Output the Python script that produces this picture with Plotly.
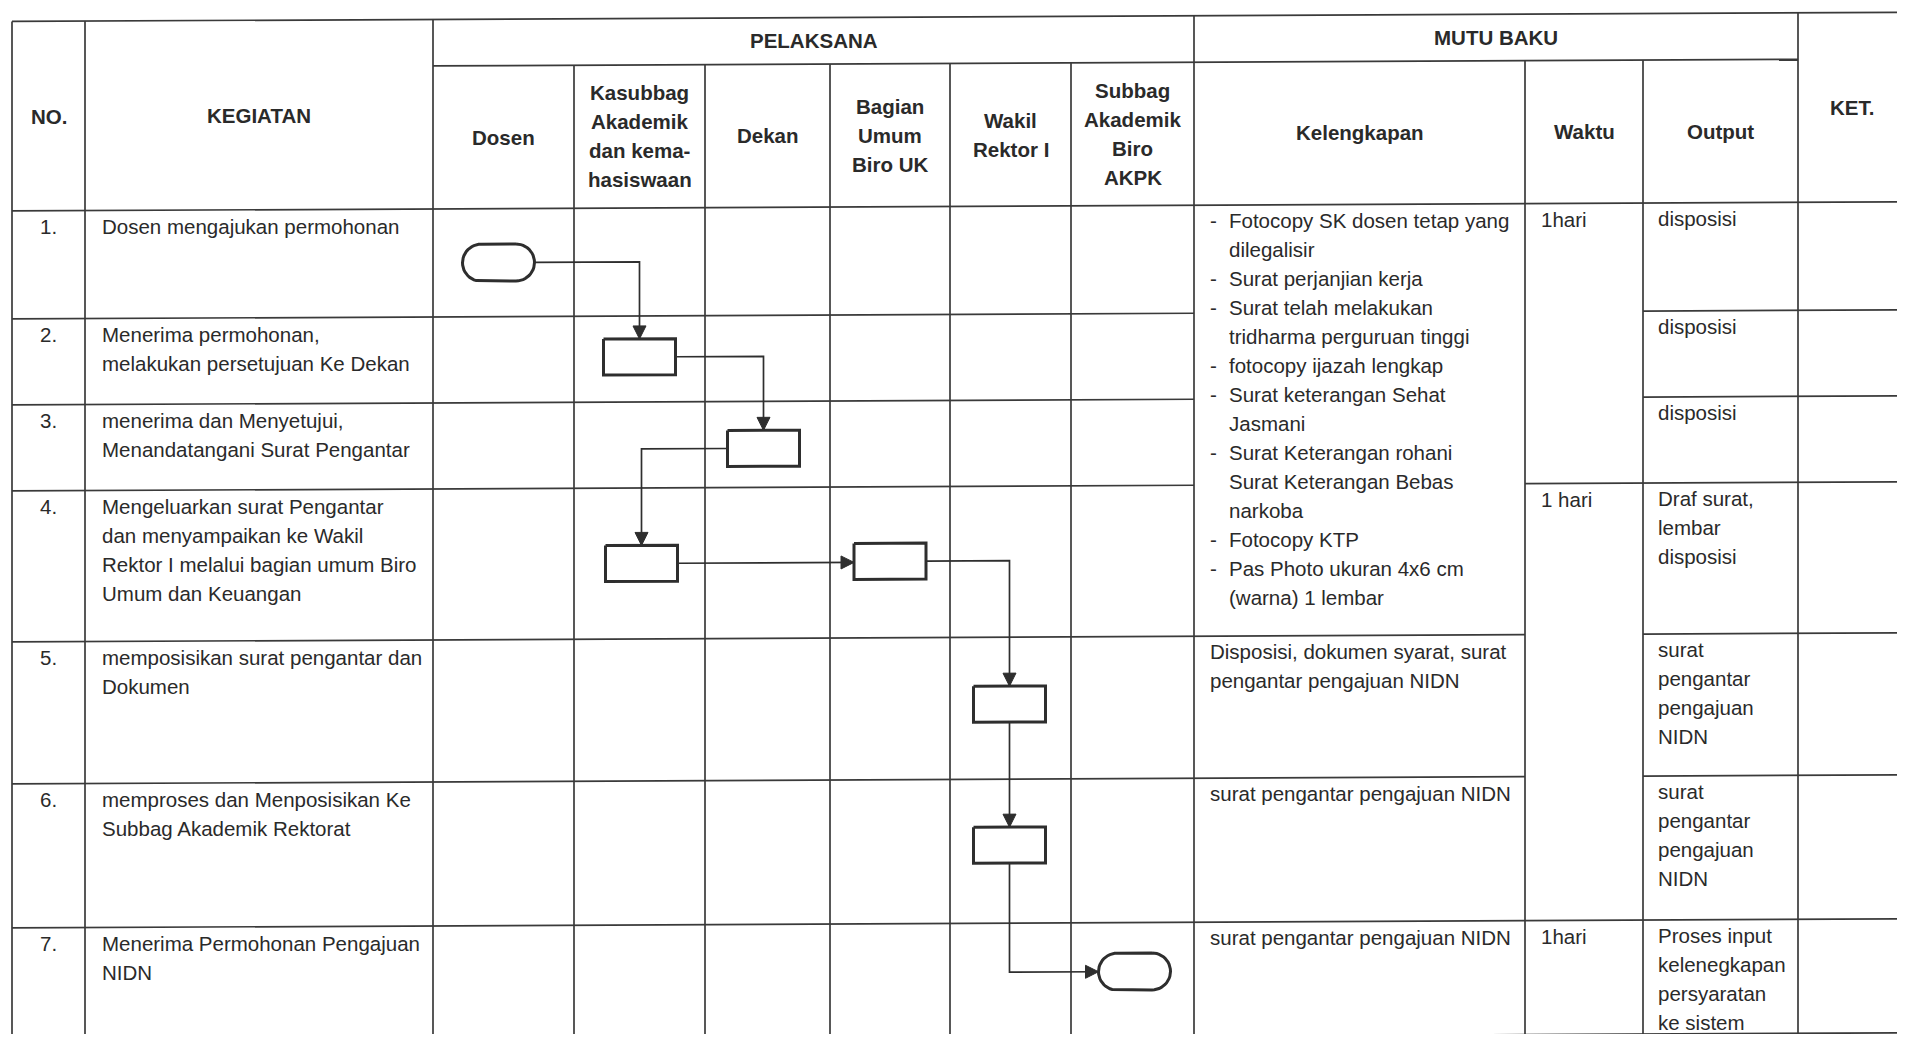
import numpy as np
import plotly.graph_objects as go

# ---------------- data (texts of the SOP table) ----------------
header_no = "NO."
header_kegiatan = "KEGIATAN"
header_pelaksana = "PELAKSANA"
header_mutu = "MUTU BAKU"
header_ket = "KET."
pelaksana_units = [
    ["Dosen"],
    ["Kasubbag", "Akademik", "dan kema-", "hasiswaan"],
    ["Dekan"],
    ["Bagian", "Umum", "Biro UK"],
    ["Wakil", "Rektor I"],
    ["Subbag", "Akademik", "Biro", "AKPK"],
]
mutu_columns = ["Kelengkapan", "Waktu", "Output"]
step_numbers = ["1.", "2.", "3.", "4.", "5.", "6.", "7."]
kegiatan = [
    ["Dosen mengajukan permohonan"],
    ["Menerima permohonan,", "melakukan persetujuan Ke Dekan"],
    ["menerima dan Menyetujui,", "Menandatangani Surat Pengantar"],
    ["Mengeluarkan surat Pengantar", "dan menyampaikan ke Wakil",
     "Rektor I melalui bagian umum Biro", "Umum dan Keuangan"],
    ["memposisikan surat pengantar dan", "Dokumen"],
    ["memproses dan Menposisikan Ke", "Subbag Akademik Rektorat"],
    ["Menerima Permohonan Pengajuan", "NIDN"],
]
# requirements list shared by steps 1-4 (bullet, wrapped lines)
kelengkapan_list = [
    ("-", ["Fotocopy SK dosen tetap yang", "dilegalisir"]),
    ("-", ["Surat perjanjian kerja"]),
    ("-", ["Surat telah melakukan", "tridharma perguruan tinggi"]),
    ("-", ["fotocopy ijazah lengkap"]),
    ("-", ["Surat keterangan Sehat", "Jasmani"]),
    ("-", ["Surat Keterangan rohani"]),
    ("", ["Surat Keterangan Bebas", "narkoba"]),
    ("-", ["Fotocopy KTP"]),
    ("-", ["Pas Photo ukuran 4x6 cm", "(warna) 1 lembar"]),
]
kelengkapan_steps = [5, 6, 7]
kelengkapan_texts = [
    ["Disposisi, dokumen syarat, surat", "pengantar pengajuan NIDN"],
    ["surat pengantar pengajuan NIDN"],
    ["surat pengantar pengajuan NIDN"],
]
waktu_steps = [1, 4, 7]
waktu_texts = ["1hari", "1 hari", "1hari"]
output_texts = [
    ["disposisi"],
    ["disposisi"],
    ["disposisi"],
    ["Draf surat,", "lembar", "disposisi"],
    ["surat", "pengantar", "pengajuan", "NIDN"],
    ["surat", "pengantar", "pengajuan", "NIDN"],
    ["Proses input", "kelenegkapan", "persyaratan", "ke sistem"],
]
# flowchart: (lane index in PELAKSANA, step number, symbol)
flow_steps = [
    (0, 1, "terminator"),
    (1, 2, "process"),
    (2, 3, "process"),
    (1, 4, "process"),
    (3, 4, "process"),
    (4, 5, "process"),
    (4, 6, "process"),
    (5, 7, "terminator"),
]
# connectors: (from step, to step, routing)
flow_links = [(0, 1, "hv"), (1, 2, "hv"), (2, 3, "hv"), (3, 4, "h"),
              (4, 5, "hv"), (5, 6, "v"), (6, 7, "vh")]

# ---------------- layout geometry (page pixels) ----------------
COL_X = [12, 85, 433, 574, 705, 830, 950, 1071, 1194, 1525, 1643, 1798, 1905]
Y_TOP, Y_SUB, Y_HEAD = 21.5, 68, 211
ROW_Y = [211, 319, 405, 491, 642, 784, 928, 1042]
SKEW = 0.0048          # scanned page is slightly tilted
STEP_DX = [-5, 0, -4, 2, 0, -1, -1, 2]
STEP_DY = [0, -2, 4, 0, -1, -4, -6, -8]
BOX_W, BOX_H, TERM_H = 72, 36, 37
LINE_GAP = 29
TEXT_OFF = 15.5
FONT = "Liberation Sans, Arial, sans-serif"
FS = 20.5
TXT = "#2a2a2a"
GRID = "#3a3a3a"
INK = "#2e2e2e"


def sk(x, y):
    return y - SKEW * x


fig = go.Figure()

# ---- table grid ----
gx, gy = [], []


def seg(x0, y0, x1, y1):
    gx.extend([x0, x1, None])
    gy.extend([sk(x0, y0), sk(x1, y1), None])


seg(COL_X[0], Y_TOP, COL_X[-1], Y_TOP)
seg(COL_X[2], Y_SUB, COL_X[11], Y_SUB)
seg(COL_X[0], Y_HEAD, COL_X[-1], Y_HEAD)
for r in (1, 2):
    seg(COL_X[0], ROW_Y[r], COL_X[8], ROW_Y[r])
    seg(COL_X[10], ROW_Y[r], COL_X[-1], ROW_Y[r])
seg(COL_X[0], ROW_Y[3], COL_X[8], ROW_Y[3])
seg(COL_X[9], ROW_Y[3], COL_X[-1], ROW_Y[3])
for r in (4, 5):
    seg(COL_X[0], ROW_Y[r], COL_X[9], ROW_Y[r])
    seg(COL_X[10], ROW_Y[r], COL_X[-1], ROW_Y[r])
for r in (6, 7):
    seg(COL_X[0], ROW_Y[r], COL_X[-1], ROW_Y[r])
for c in (0, 1, 2, 8, 11):
    seg(COL_X[c], Y_TOP, COL_X[c], ROW_Y[-1])
for c in (3, 4, 5, 6, 7, 9, 10):
    seg(COL_X[c], Y_SUB, COL_X[c], ROW_Y[-1])

fig.add_trace(go.Scatter(x=gx, y=gy, mode="lines",
                         line=dict(color=GRID, width=1.7),
                         hoverinfo="skip", showlegend=False))

# ---- flowchart symbols ----
centers = []
for i, (lane, step, sym) in enumerate(flow_steps):
    cx = (COL_X[2 + lane] + COL_X[3 + lane]) / 2 + STEP_DX[i]
    cy = (ROW_Y[step - 1] + ROW_Y[step]) / 2 + STEP_DY[i]
    h = TERM_H if sym == "terminator" else BOX_H
    centers.append((cx, cy, h))

sx, sy = [], []
for (cx, cy, h), (_, _, sym) in zip(centers, flow_steps):
    if sym == "terminator":
        r = h / 2
        xl, xr = cx - BOX_W / 2 + r, cx + BOX_W / 2 - r
        t1 = np.linspace(-np.pi / 2, np.pi / 2, 25)
        t2 = np.linspace(np.pi / 2, 3 * np.pi / 2, 25)
        px = list(xr + r * np.cos(t1)) + list(xl + r * np.cos(t2)) + [xr]
        py = list(cy + r * np.sin(t1)) + list(cy + r * np.sin(t2)) + [cy - r]
    else:
        px = [cx - BOX_W / 2, cx + BOX_W / 2, cx + BOX_W / 2, cx - BOX_W / 2, cx - BOX_W / 2]
        py = [cy - h / 2, cy - h / 2, cy + h / 2, cy + h / 2, cy - h / 2]
    sx.extend(px + [None])
    sy.extend([sk(a, b) for a, b in zip(px, py)] + [None])

# ---- connectors ----
cxs, cys, ax, ay = [], [], [], []
AL, AW = 13, 6.5


def poly(pts):
    cxs.extend([p[0] for p in pts] + [None])
    cys.extend([sk(p[0], p[1]) for p in pts] + [None])


def arrow(tx, ty, direction):
    if direction == "down":
        pts = [(tx - AW, ty - AL), (tx + AW, ty - AL), (tx, ty), (tx - AW, ty - AL)]
    else:
        pts = [(tx - AL, ty - AW), (tx - AL, ty + AW), (tx, ty), (tx - AL, ty - AW)]
    ax.extend([p[0] for p in pts] + [None])
    ay.extend([sk(p[0], p[1]) for p in pts] + [None])


for a, b, route in flow_links:
    x0, y0, h0 = centers[a]
    x1, y1, h1 = centers[b]
    if route == "hv":
        xs = x0 + BOX_W / 2 if x1 > x0 else x0 - BOX_W / 2
        poly([(xs, y0), (x1, y0), (x1, y1 - h1 / 2)])
        arrow(x1, y1 - h1 / 2, "down")
    elif route == "h":
        poly([(x0 + BOX_W / 2, y0), (x1 - BOX_W / 2, y0)])
        arrow(x1 - BOX_W / 2, y0, "right")
    elif route == "v":
        poly([(x0, y0 + h0 / 2), (x0, y1 - h1 / 2)])
        arrow(x0, y1 - h1 / 2, "down")
    elif route == "vh":
        poly([(x0, y0 + h0 / 2), (x0, y1), (x1 - BOX_W / 2, y1)])
        arrow(x1 - BOX_W / 2, y1, "right")

fig.add_trace(go.Scatter(x=cxs, y=cys, mode="lines",
                         line=dict(color=INK, width=1.7),
                         hoverinfo="skip", showlegend=False))
fig.add_trace(go.Scatter(x=ax, y=ay, mode="lines", fill="toself",
                         fillcolor=INK, line=dict(color=INK, width=1),
                         hoverinfo="skip", showlegend=False))
fig.add_trace(go.Scatter(x=sx, y=sy, mode="lines",
                         line=dict(color=INK, width=3),
                         hoverinfo="skip", showlegend=False))

# ---- texts ----
ann = []


def txt(x, y_nom, s, anchor="left", bold=False):
    ann.append(dict(x=x, y=sk(x, y_nom), xref="x", yref="y",
                    text=f"<b>{s}</b>" if bold else s,
                    xanchor=anchor, yanchor="middle", showarrow=False,
                    font=dict(family=FONT, size=FS, color=TXT)))


def block(x, cy, lines, anchor="center", bold=True):
    n = len(lines)
    for i, s in enumerate(lines):
        txt(x, cy + (i - (n - 1) / 2) * LINE_GAP, s, anchor, bold)


mid = lambda a, b: (a + b) / 2
block(mid(COL_X[0], COL_X[1]), mid(Y_TOP, Y_HEAD), [header_no])
block(mid(COL_X[1], COL_X[2]), mid(Y_TOP, Y_HEAD), [header_kegiatan])
block(mid(COL_X[2], COL_X[8]), mid(Y_TOP, Y_SUB), [header_pelaksana])
block(mid(COL_X[8], COL_X[11]), mid(Y_TOP, Y_SUB), [header_mutu])
block(mid(COL_X[11], COL_X[12]), mid(Y_TOP, Y_HEAD), [header_ket])
for i, lines in enumerate(pelaksana_units):
    block(mid(COL_X[2 + i], COL_X[3 + i]), mid(Y_SUB, Y_HEAD), lines)
for i, s in enumerate(mutu_columns):
    block(mid(COL_X[8 + i], COL_X[9 + i]), mid(Y_SUB, Y_HEAD), [s])

for r in range(7):
    top = ROW_Y[r] + TEXT_OFF
    txt(mid(COL_X[0], COL_X[1]), top, step_numbers[r], "center")
    for i, s in enumerate(kegiatan[r]):
        txt(COL_X[1] + 15, top + i * LINE_GAP, s)
    for i, s in enumerate(output_texts[r]):
        txt(COL_X[10] + 13, top + i * LINE_GAP, s)

k = 0
for bullet, lines in kelengkapan_list:
    for j, s in enumerate(lines):
        y = ROW_Y[0] + TEXT_OFF + k * LINE_GAP
        if j == 0 and bullet:
            txt(COL_X[8] + 14, y, bullet)
        txt(COL_X[8] + 33, y, s)
        k += 1
for step, lines in zip(kelengkapan_steps, kelengkapan_texts):
    for i, s in enumerate(lines):
        txt(COL_X[8] + 14, ROW_Y[step - 1] + TEXT_OFF + i * LINE_GAP, s)
for step, s in zip(waktu_steps, waktu_texts):
    txt(COL_X[9] + 14, ROW_Y[step - 1] + TEXT_OFF, s)

W, H = 1889, 1026
fig.update_layout(
    width=W, height=H, autosize=False,
    margin=dict(l=0, r=0, t=0, b=0),
    paper_bgcolor="white", plot_bgcolor="white",
    xaxis=dict(range=[8, 8 + W], visible=False, fixedrange=True),
    yaxis=dict(range=[8 + H, 8], visible=False, fixedrange=True),
    annotations=ann, showlegend=False,
)
fig.write_html("out.html", config={"displayModeBar": False})
